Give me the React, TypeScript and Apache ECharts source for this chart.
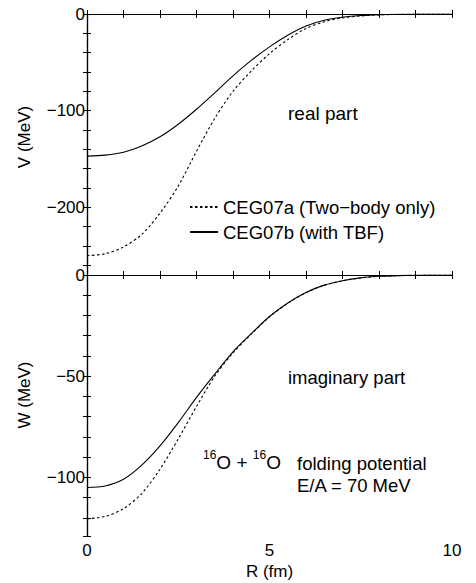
import React, { useEffect, useRef } from "react";
import * as echarts from "echarts";

const rValues = [0, 0.5, 1, 1.5, 2, 2.5, 3, 3.5, 4, 4.5, 5, 5.5, 6, 6.5, 7, 7.5, 8, 8.5, 9, 9.5, 10];
const vTwoBody = [-250, -248, -241, -228, -206, -178, -142, -108, -80, -59, -41, -26.5, -15, -8, -4, -2, -0.9, -0.4, -0.15, -0.05, 0];
const vWithTBF = [-147, -146, -143, -136.5, -127, -114, -98.5, -81.5, -64, -48, -34, -22, -12.5, -6.5, -3.4, -1.6, -0.7, -0.3, -0.1, -0.03, 0];
const wTwoBody = [-120.5, -119.3, -115.5, -108, -96, -81, -65, -50, -38.5, -29.2, -20.7, -14, -8.7, -5.1, -2.85, -1.45, -0.68, -0.31, -0.12, -0.04, 0];
const wWithTBF = [-105, -104.3, -101, -94, -84.5, -73, -60.5, -49, -38, -29, -20.5, -13.8, -8.6, -5, -2.8, -1.4, -0.65, -0.3, -0.12, -0.04, 0];

const seriesNames = ["CEG07a (Two\u2212body only)", "CEG07b (with TBF)"];
const FONT = "'Liberation Sans', Arial, Helvetica, sans-serif";

function pairs(ys: number[]) {
  return rValues.map((x, i) => [x, ys[i]]);
}

const minus = (v: number) => String(v).replace("-", "\u2212");

export default function App() {
  const ref = useRef<HTMLDivElement>(null);
  useEffect(() => {
    document.body.style.margin = "0";
    const chart = echarts.init(ref.current!, null, { renderer: "svg" });
    const axisLine = { show: true, lineStyle: { color: "#000", width: 1.2 } };
    const tick = { show: true, inside: true, length: 4, lineStyle: { color: "#000", width: 1 } };
    const labelStyle = { color: "#000", fontSize: 17, fontFamily: FONT };
    const xBase = (gridIndex: number, position: string, showLabel: boolean) => ({
      type: "value",
      gridIndex,
      position,
      min: 0,
      max: 10,
      interval: 1,
      axisLine,
      axisTick: tick,
      splitLine: { show: false },
      axisLabel: showLabel
        ? { ...labelStyle, margin: 6, formatter: (v: number) => (v % 5 === 0 ? String(v) : "") }
        : { show: false },
    });
    const yBase = (gridIndex: number, position: string, min: number, step: number, major: number, showLabel: boolean) => ({
      type: "value",
      gridIndex,
      position,
      min,
      max: 0,
      minInterval: step,
      maxInterval: step,
      splitNumber: 14,
      axisLine,
      axisTick: tick,
      splitLine: { show: false },
      axisLabel: showLabel
        ? { ...labelStyle, margin: 2, formatter: (v: number) => (Math.abs(v % major) < 1e-6 ? minus(v) : "") }
        : { show: false },
    });
    const dashed = { color: "#000", width: 1.1, type: [2.5, 2.5] };
    const solid = { color: "#000", width: 1.1, type: "solid" };
    const lineSeries = (name: string, axis: number, ys: number[], style: any) => ({
      name,
      type: "line",
      xAxisIndex: axis,
      yAxisIndex: axis,
      data: pairs(ys),
      smooth: 0.3,
      symbol: "none",
      color: "#000",
      itemStyle: { color: "#000", opacity: 0 },
      lineStyle: style,
    });
    chart.setOption({
      animation: false,
      textStyle: { fontFamily: FONT },
      grid: [
        { left: 87, right: 24, top: 14, height: 261 },
        { left: 87, right: 24, top: 275, height: 261 },
      ],
      xAxis: [
        xBase(0, "bottom", false),
        xBase(0, "top", false),
        {
          ...xBase(1, "bottom", true),
          name: "R (fm)",
          nameLocation: "middle",
          nameGap: 27,
          nameTextStyle: { color: "#000", fontSize: 17, fontFamily: FONT },
        },
        xBase(1, "top", false),
      ],
      yAxis: [
        {
          ...yBase(0, "left", -270, 20, 100, true),
          name: "V (MeV)",
          nameLocation: "middle",
          nameGap: 54,
          nameTextStyle: { color: "#000", fontSize: 17, fontFamily: FONT, padding: [0, 0, 0, 15] },
        },
        yBase(0, "right", -270, 20, 100, false),
        {
          ...yBase(1, "left", -129, 10, 50, true),
          name: "W (MeV)",
          nameLocation: "middle",
          nameGap: 54,
          nameTextStyle: { color: "#000", fontSize: 17, fontFamily: FONT, padding: [0, 0, 0, 21] },
        },
        yBase(1, "right", -129, 10, 50, false),
      ],
      legend: {
        data: seriesNames,
        orient: "vertical",
        left: 184,
        top: 192,
        itemWidth: 28,
        itemHeight: 14,
        itemGap: 5,
        itemStyle: { opacity: 0, borderWidth: 0 },
        textStyle: { color: "#000", fontSize: 18.5, fontFamily: FONT, lineHeight: 20 },
        selectedMode: false,
      },
      series: [
        lineSeries(seriesNames[0], 0, vTwoBody, dashed),
        lineSeries(seriesNames[1], 0, vWithTBF, solid),
        lineSeries(seriesNames[0], 2, wTwoBody, dashed),
        lineSeries(seriesNames[1], 2, wWithTBF, solid),
      ],
      graphic: [
        { type: "text", left: 288, top: 104, style: { text: "real part", fill: "#000", fontSize: 19, fontFamily: FONT } },
        { type: "text", left: 288, top: 368, style: { text: "imaginary part", fill: "#000", fontSize: 18.5, fontFamily: FONT } },
        {
          type: "text",
          left: 203,
          top: 449,
          style: {
            text: "{s|16}{n|O + }{s|16}{n|O}",
            fill: "#000",
            fontFamily: FONT,
            rich: {
              s: { fontSize: 12, fontFamily: FONT, verticalAlign: "top", lineHeight: 13, fill: "#000" },
              n: { fontSize: 19, fontFamily: FONT, lineHeight: 26, fill: "#000" },
            },
          },
        },
        { type: "text", left: 297, top: 454, style: { text: "folding potential", fill: "#000", fontSize: 18.5, fontFamily: FONT } },
        { type: "text", left: 297, top: 476, style: { text: "E/A = 70 MeV", fill: "#000", fontSize: 18.5, fontFamily: FONT } },
      ],
    });
    return () => chart.dispose();
  }, []);
  return <div ref={ref} style={{ width: 476, height: 583 }} />;
}
